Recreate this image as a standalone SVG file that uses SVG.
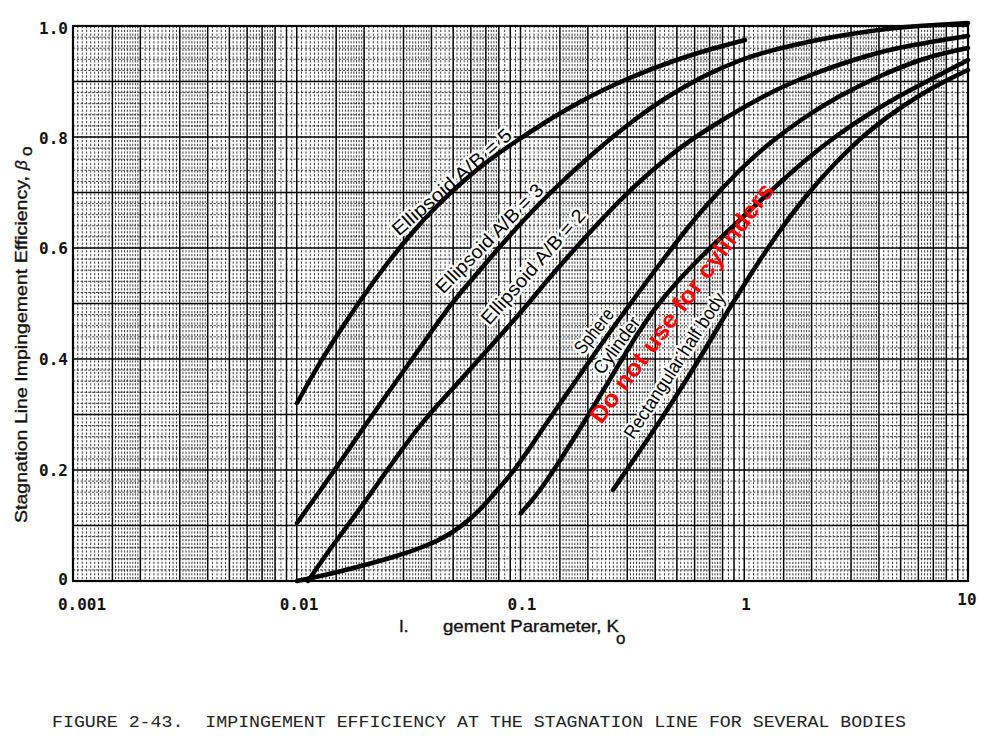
<svg xmlns="http://www.w3.org/2000/svg" xmlns:xlink="http://www.w3.org/1999/xlink" width="996" height="744" viewBox="0 0 996 744">
<style>
.major{stroke:#000;stroke-width:1.5;fill:none}
.minor{stroke:#1a1a1a;stroke-width:0.85;stroke-dasharray:2.2 1.6;fill:none}
.curve{stroke:#000;stroke-width:4.5;fill:none;stroke-linejoin:round;stroke-linecap:round}
.lbl{font-family:"Liberation Sans",Arial,sans-serif;font-size:19px;fill:#000;stroke:#fff;stroke-width:5;paint-order:stroke;stroke-linejoin:round}
.tick{font-family:"DejaVu Sans Mono",monospace;font-weight:bold;font-size:16px;fill:#111}
.axis{font-family:"Liberation Sans",Arial,sans-serif;font-size:17px;fill:#111;stroke:#111;stroke-width:0.35}
.cap{font-family:"Liberation Mono","Courier New",monospace;font-size:17px;fill:#222;white-space:pre}
.warn{font-family:"Liberation Sans",Arial,sans-serif;font-weight:bold;font-size:24px;fill:#f00}
</style>
<defs>
<g id="dec">
<path class="minor" d="M4.74 26V581M9.26 26V581M13.58 26V581M17.72 26V581M21.68 26V581M25.49 26V581M29.16 26V581M32.70 26V581M36.11 26V581M42.59 26V581M45.67 26V581M48.66 26V581M51.56 26V581M54.38 26V581M57.12 26V581M59.78 26V581M62.37 26V581M64.89 26V581M72.10 26V581M76.62 26V581M80.94 26V581M85.07 26V581M89.04 26V581M92.85 26V581M96.52 26V581M100.05 26V581M103.46 26V581M109.94 26V581M113.03 26V581M116.02 26V581M118.92 26V581M121.74 26V581M124.47 26V581M127.13 26V581M129.73 26V581M132.25 26V581M139.45 26V581M143.97 26V581M148.29 26V581M152.43 26V581M160.21 26V581M163.87 26V581M167.41 26V581M170.82 26V581M177.30 26V581M180.38 26V581M183.37 26V581M186.27 26V581M191.83 26V581M194.49 26V581M197.08 26V581M199.61 26V581M207.96 26V581M218.77 26V581"/>
<path class="major" d="M0 26V581M39.40 26V581M67.36 26V581M106.76 26V581M134.71 26V581M156.39 26V581M174.11 26V581M189.09 26V581M202.07 26V581M213.51 26V581"/>
</g>
</defs>
<rect width="996" height="744" fill="#fff"/>
<g id="grid">
<use xlink:href="#dec" x="73"/>
<use xlink:href="#dec" x="296.75"/>
<use xlink:href="#dec" x="520.5"/>
<use xlink:href="#dec" x="744.25"/>
<path class="minor" d="M73 37.1H968M73 48.2H968M73 59.3H968M73 70.4H968M73 92.6H968M73 103.7H968M73 114.8H968M73 125.9H968M73 148.1H968M73 159.2H968M73 170.3H968M73 181.4H968M73 203.6H968M73 214.7H968M73 225.8H968M73 236.9H968M73 259.1H968M73 270.2H968M73 281.3H968M73 292.4H968M73 314.6H968M73 325.7H968M73 336.8H968M73 347.9H968M73 370.1H968M73 381.2H968M73 392.3H968M73 403.4H968M73 425.6H968M73 436.7H968M73 447.8H968M73 458.9H968M73 481.1H968M73 492.2H968M73 503.3H968M73 514.4H968M73 536.6H968M73 547.7H968M73 558.8H968M73 569.9H968"/>
<path class="major" d="M73 81.5H968M73 137H968M73 192.5H968M73 248H968M73 303.5H968M73 359H968M73 414.5H968M73 470H968M73 525.5H968"/>
<rect x="73" y="26" width="895" height="555" fill="none" stroke="#000" stroke-width="2.2"/>
</g>
<g id="ticks">
<text class="tick" x="68" y="34" text-anchor="end">1.0</text>
<text class="tick" x="68" y="144" text-anchor="end">0.8</text>
<text class="tick" x="68" y="254" text-anchor="end">0.6</text>
<text class="tick" x="68" y="365" text-anchor="end">0.4</text>
<text class="tick" x="68" y="476" text-anchor="end">0.2</text>
<text class="tick" x="68" y="585" text-anchor="end">0</text>
<text class="tick" x="82" y="610" text-anchor="middle">0.001</text>
<text class="tick" x="299" y="610" text-anchor="middle">0.01</text>
<text class="tick" x="522" y="610" text-anchor="middle">0.1</text>
<text class="tick" x="746" y="610" text-anchor="middle">1</text>
<text class="tick" x="967" y="605" text-anchor="middle">10</text>
</g>
<g id="axis-titles">
<text class="axis" transform="translate(27,523) rotate(-90)" textLength="347" lengthAdjust="spacingAndGlyphs">Stagnation Line Impingement Efficiency,</text>
<text class="axis" transform="translate(27,170) rotate(-90)" font-style="italic">β</text>
<text class="axis" transform="translate(32,156) rotate(-90)" font-size="13">o</text>
<text class="axis" x="399" y="632">I.</text>
<text class="axis" x="443" y="632" textLength="176" lengthAdjust="spacingAndGlyphs">gement Parameter, K</text>
<text class="axis" x="616" y="644" font-size="14">o</text>
</g>
<g id="labels">
<text class="lbl" text-anchor="middle" textLength="152" lengthAdjust="spacingAndGlyphs" transform="translate(456,187) rotate(-41)">Ellipsoid A/B = 5</text>
<text class="lbl" text-anchor="middle" textLength="145" lengthAdjust="spacingAndGlyphs" transform="translate(494,243) rotate(-45.5)">Ellipsoid A/B = 3</text>
<text class="lbl" text-anchor="middle" textLength="147" lengthAdjust="spacingAndGlyphs" transform="translate(538,271) rotate(-48.5)">Ellipsoid A/B = 2</text>
<text class="lbl" text-anchor="middle" textLength="52" lengthAdjust="spacingAndGlyphs" transform="translate(599,335) rotate(-52)">Sphere</text>
<text class="lbl" text-anchor="middle" textLength="66" lengthAdjust="spacingAndGlyphs" transform="translate(622,349) rotate(-54)">Cylinder</text>
<text class="lbl" text-anchor="middle" font-size="17.5" textLength="170" lengthAdjust="spacingAndGlyphs" transform="translate(680,369) rotate(-57)">Rectangular half body</text>
</g>
<g id="curves">
<path id="ellipsoid5" class="curve" d="M297,403 L308.5,382.5 Q320,362 332.5,342.5 Q345,323 359,302.5 Q373,282 386.5,264.5 Q400,247 412.5,232.5 Q425,218 437.5,205.5 Q450,193 462.5,182 Q475,171 487.5,161.5 Q500,152 515,142 Q530,132 545,122.5 Q560,113 580,102 Q600,91 625,80 Q650,69 675,60.5 Q700,52 722.5,46 L745,40"/>
<path id="ellipsoid3" class="curve" d="M297,523 L308.5,507 Q320,491 332.5,473 Q345,455 359,434.5 Q373,414 386.5,395 Q400,376 412.5,358.5 Q425,341 437.5,323 Q450,305 462.5,290.5 Q475,276 486,263 Q497,250 508.5,237 Q520,224 532.5,211 Q545,198 557.5,186 Q570,174 583.5,162 Q597,150 608.5,140.5 Q620,131 635,119.5 Q650,108 667.5,97 Q685,86 702.5,77 Q720,68 740,60.5 Q760,53 790,46 Q820,39 845,35 Q870,31 886.5,29 Q903,27 919,26 Q935,25 951.5,24 L968,23"/>
<path id="ellipsoid2" class="curve" d="M308,581 L319,565 Q330,549 343.5,531 Q357,513 373.5,489.5 Q390,466 406.5,443.5 Q423,421 440,402.5 Q457,384 473.5,365.5 Q490,347 506.5,328.5 Q523,310 534,296.5 Q545,283 555,271.5 Q565,260 577.5,246 Q590,232 605,216 Q620,200 635,186 Q650,172 668.5,157 Q687,142 713.5,125.5 Q740,109 763.5,96.5 Q787,84 813.5,74 Q840,64 863.5,57 Q887,50 908.5,46 Q930,42 949,39 L968,36"/>
<path id="sphere" class="curve" d="M297,581 L313.5,577.5 Q330,574 351.5,568.5 Q373,563 391.5,557.5 Q410,552 425,546 Q440,540 451,533 Q462,526 471,518 Q480,510 490,498.5 Q500,487 508.5,477 Q517,467 533.5,442.5 Q550,418 562.5,400 Q575,382 587.5,364 Q600,346 612.5,328.5 Q625,311 637.5,294 Q650,277 662.5,260.5 Q675,244 686,230 Q697,216 711,200.5 Q725,185 739,171 Q753,157 769,144 Q785,131 802.5,119 Q820,107 840,96 Q860,85 881.5,75.5 Q903,66 919,60.5 Q935,55 951.5,51.5 L968,48"/>
<path id="cylinder" class="curve" d="M521,513 L528,505 Q535,497 542.5,486.5 Q550,476 562.5,456.5 Q575,437 587.5,416.5 Q600,396 612.5,375 Q625,354 637.5,334 Q650,314 665,296 Q680,278 695,263 Q710,248 727.5,231.5 Q745,215 766,195.5 Q787,176 803.5,162 Q820,148 836.5,136 Q853,124 871.5,112.5 Q890,101 905,93 Q920,85 932.5,78.5 Q945,72 956.5,66 L968,60"/>
<path id="rect-half-body" class="curve" d="M613,490 L621.5,477.5 Q630,465 640,450.5 Q650,436 662.5,417 Q675,398 687.5,378 Q700,358 715,332.5 Q730,307 746.5,281 Q763,255 776.5,235.5 Q790,216 805,197.5 Q820,179 836.5,162 Q853,145 869,131.5 Q885,118 902.5,106.5 Q920,95 932.5,88 Q945,81 956.5,75.5 L968,70"/>
</g>
<text class="warn" text-anchor="middle" textLength="292" lengthAdjust="spacingAndGlyphs" transform="translate(688,308) rotate(-53.5)">Do not use for cylinders</text>
<text class="cap" x="52" y="727" textLength="854" lengthAdjust="spacingAndGlyphs" xml:space="preserve">FIGURE 2-43.  IMPINGEMENT EFFICIENCY AT THE STAGNATION LINE FOR SEVERAL BODIES</text>
</svg>
